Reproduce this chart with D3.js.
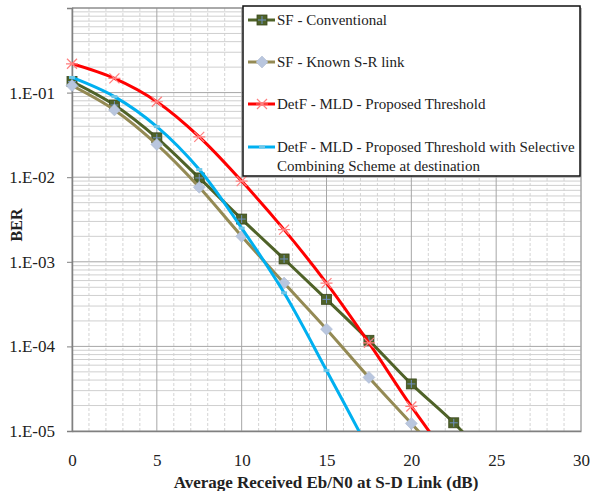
<!DOCTYPE html>
<html>
<head>
<meta charset="utf-8">
<script src="https://cdn.jsdelivr.net/npm/d3@7"></script>
<style>
  body { margin: 0; background: #fff; }
  text { font-family: "Liberation Serif", "DejaVu Serif", serif; fill: #222; }
</style>
</head>
<body>
<div id="chart"></div>
<script>
(function(){

// data
var snr = [0, 2.5, 5, 7.5, 10, 12.5, 15, 17.5, 20, 22.5, 25];
var berConventional = [0.135, 0.0714, 0.0292, 0.0098, 0.0032, 0.00108, 3.6e-4, 1.18e-4, 3.6e-5, 1.25e-5, 3.6e-6];
var berKnownSR     = [0.121, 0.0624, 0.0244, 0.0076, 0.0020, 5.6e-4, 1.6e-4, 4.3e-5, 1.23e-5, 3.5e-6];
var berDetF        = [0.219, 0.147, 0.078, 0.030, 0.0090, 0.0024, 5.6e-4, 1.1e-4, 1.95e-5, 4e-6];
var berSelective   = [0.151, 0.0897, 0.0396, 0.0123, 0.0025, 4.3e-4, 5.2e-5, 6e-6];
var seriesNames = [
  ["SF - Conventional"],
  ["SF - Known S-R link"],
  ["DetF - MLD - Proposed Threshold"],
  ["DetF - MLD - Proposed Threshold with Selective", "Combining Scheme at destination"]
];
var xTicks = [0, 5, 10, 15, 20, 25, 30];
var yTicks = [1e-1, 1e-2, 1e-3, 1e-4, 1e-5];
var yTickLabels = ["1.E-01", "1.E-02", "1.E-03", "1.E-04", "1.E-05"];

var margin = {top: 8, right: 9, bottom: 60, left: 72},
    width = 590 - margin.left - margin.right,
    height = 491 - margin.top - margin.bottom;

var svg = d3.select("#chart")
  .append("svg")
    .attr("width", 590)
    .attr("height", 491);

var g = svg.append("g")
    .attr("transform", "translate(" + margin.left + "," + margin.top + ")");

var x = d3.scaleLinear().domain([0, 30]).range([0, width]);
var y = d3.scaleLog().domain([1e-5, 1]).range([height, 0]);

// minor gridlines
g.append("g").selectAll("line")
    .data(d3.range(1, 30).filter(function(d) { return d % 5 != 0; }))
    .enter().append("line")
      .attr("x1", x).attr("x2", x)
      .attr("y1", 0).attr("y2", height)
      .style("stroke", "#d4d4d4")
      .style("stroke-dasharray", "3,2");

var minorY = [];
[1e-5, 1e-4, 1e-3, 1e-2, 1e-1].forEach(function(dec) {
  for (var k = 2; k < 10; k++) minorY.push(dec * k);
});
g.append("g").selectAll("line")
    .data(minorY)
    .enter().append("line")
      .attr("x1", 0).attr("x2", width)
      .attr("y1", y).attr("y2", y)
      .style("stroke", "#cfcfcf");

// major gridlines
g.append("g").selectAll("line")
    .data(xTicks)
    .enter().append("line")
      .attr("x1", x).attr("x2", x)
      .attr("y1", 0).attr("y2", height)
      .style("stroke", "#a6a6a6");

g.append("g").selectAll("line")
    .data([1].concat(yTicks))
    .enter().append("line")
      .attr("x1", 0).attr("x2", width)
      .attr("y1", y).attr("y2", y)
      .style("stroke", "#a6a6a6");

// axes
var yAxis = d3.axisLeft(y)
    .tickValues(yTicks)
    .tickSize(5)
    .tickPadding(12)
    .tickFormat(function(d, i) { return yTickLabels[i]; });
var ya = g.append("g").call(yAxis);
ya.select(".domain").style("stroke", "#808080").style("stroke-width", 1.5);
ya.selectAll(".tick line").style("stroke", "#808080");
ya.selectAll("text").style("font-size", "17px").style("font-family", "Liberation Serif").style("fill", "#222");

var xAxis = d3.axisBottom(x).tickValues(xTicks).tickSize(0).tickPadding(23);
var xa = g.append("g").attr("transform", "translate(0," + height + ")").call(xAxis);
xa.select(".domain").style("stroke", "#808080").style("stroke-width", 1.5);
xa.selectAll("text").style("font-size", "17px").style("font-family", "Liberation Serif").style("fill", "#222");

// clip
g.append("clipPath").attr("id", "plot-clip")
  .append("rect").attr("x", -8).attr("y", -8).attr("width", width + 8).attr("height", height + 8);
g.append("clipPath").attr("id", "line-clip")
  .append("rect").attr("width", width).attr("height", height);

var line = d3.line()
    .x(function(d) { return x(d[0]); })
    .y(function(d) { return y(d[1]); })
    .curve(d3.curveCatmullRom.alpha(0.5));

var series = [
  {vals: berConventional, color: "#4f6228", marker: "square"},
  {vals: berKnownSR, color: "#948a54", marker: "diamond"},
  {vals: berDetF, color: "#ff0000", marker: "star"},
  {vals: berSelective, color: "#00b0f0", marker: "dash"}
];

function drawMarker(sel, type) {
  if (type == "square") {
    sel.append("rect").attr("x", -5).attr("y", -5).attr("width", 10).attr("height", 10)
      .style("fill", "#4f6228").style("stroke", "#3b4a1e").style("stroke-width", 0.8);
    sel.append("path").attr("d", "M-4,0H4M0,-4V4").style("stroke", "#6d8fc0").style("stroke-width", 1);
  } else if (type == "diamond") {
    sel.append("path").attr("d", "M0,-6L6,0L0,6L-6,0Z")
      .style("fill", "#b9c6de").style("stroke", "#a9b6ce").style("stroke-width", 0.5);
  } else if (type == "star") {
    sel.append("path").attr("d", "M-5,-5L5,5M-5,5L5,-5M-6,0H6")
      .style("stroke", "#ff7f7f").style("stroke-width", 1.2).style("fill", "none");
  } else {
    sel.append("path").attr("d", "M-3,0H3")
      .style("stroke", "#6ec6e8").style("stroke-width", 3);
  }
}

series.forEach(function(s) {
  var pts = s.vals.map(function(v, i) { return [snr[i], v]; });
  g.append("path")
    .datum(pts)
    .attr("clip-path", "url(#line-clip)")
    .attr("d", line)
    .style("fill", "none")
    .style("stroke", s.color)
    .style("stroke-width", 3);
  g.append("g").attr("clip-path", "url(#plot-clip)")
    .selectAll("g")
    .data(pts.filter(function(p) { return p[1] >= 1e-5; }))
    .enter().append("g")
      .attr("transform", function(p) { return "translate(" + x(p[0]) + "," + y(p[1]) + ")"; })
      .each(function() { drawMarker(d3.select(this), s.marker); });
});

// plot frame top/right
g.append("line").attr("x1", 0).attr("x2", width).attr("y1", 0).attr("y2", 0).style("stroke", "#808080");
g.append("line").attr("x1", width).attr("x2", width).attr("y1", 0).attr("y2", height).style("stroke", "#a6a6a6");

// legend
var lg = svg.append("g").attr("transform", "translate(243,6)");
lg.append("rect").attr("width", 337).attr("height", 170)
  .style("fill", "#fff").style("stroke", "#111").style("stroke-width", 1.5);
var rowY = [14, 56, 98, 141];
series.forEach(function(s, i) {
  var row = lg.append("g").attr("transform", "translate(0," + rowY[i] + ")");
  row.append("line").attr("x1", 5).attr("x2", 32).attr("y1", 0).attr("y2", 0)
    .style("stroke", s.color).style("stroke-width", 3);
  drawMarker(row.append("g").attr("transform", "translate(19,0)"), s.marker);
  seriesNames[i].forEach(function(t, j) {
    row.append("text").attr("x", 34).attr("y", j * 19).attr("dy", "0.35em")
      .style("font-size", "15px").text(t);
  });
});

// axis titles
svg.append("text")
  .attr("x", 326).attr("y", 488)
  .attr("text-anchor", "middle")
  .style("font-size", "17px").style("font-weight", "bold")
  .text("Average Received Eb/N0 at S-D Link (dB)");

svg.append("text")
  .attr("transform", "translate(22,225) rotate(-90)")
  .attr("text-anchor", "middle")
  .style("font-size", "16px").style("font-weight", "bold")
  .text("BER");

})()
</script>
</body>
</html>
